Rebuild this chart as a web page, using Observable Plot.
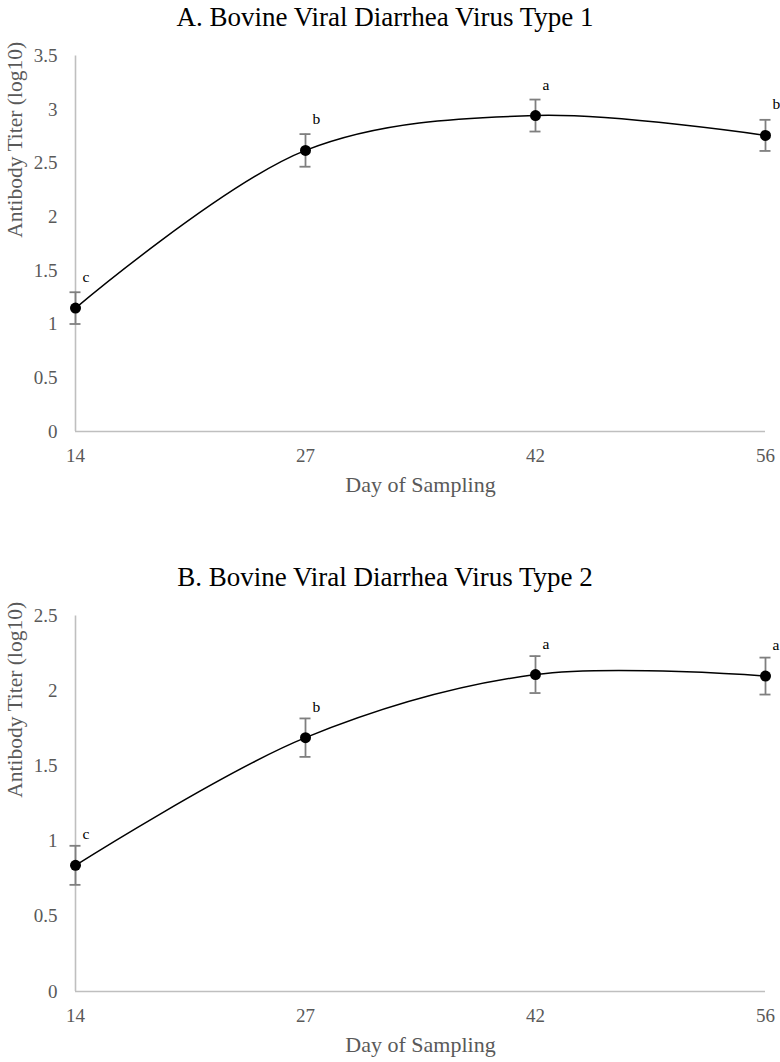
<!DOCTYPE html>
<html><head><meta charset="utf-8">
<script src="https://cdn.jsdelivr.net/npm/d3@7"></script>
<script src="https://cdn.jsdelivr.net/npm/@observablehq/plot@0.6"></script>
<style>
body{margin:0;background:#fff;}
#wrap{position:relative;width:780px;height:1062px;font-family:"Liberation Serif","Times New Roman",serif;overflow:hidden;}
#wrap svg, #wrap svg text{font-family:"Liberation Serif","Times New Roman",serif !important;}
.title{position:absolute;left:0;width:770px;padding-right:10px;text-align:center;font-size:27px;line-height:30px;color:#000;white-space:nowrap;}
.panel{position:absolute;left:0;overflow:visible;}
</style></head><body><div id="wrap"></div>
<script>
const days = ["14", "27", "42", "56"];
const bvd1Mean = [1.15, 2.62, 2.945, 2.76];
const bvd1Err = [0.148, 0.152, 0.149, 0.145];
const bvd1Letters = ["c", "b", "a", "b"];
const bvd2Mean = [0.84, 1.69, 2.11, 2.10];
const bvd2Err = [0.13, 0.128, 0.123, 0.123];
const bvd2Letters = ["c", "b", "a", "a"];
const yTicksA = [0, 0.5, 1, 1.5, 2, 2.5, 3, 3.5];
const yTicksB = [0, 0.5, 1, 1.5, 2, 2.5];
const titleA = "A. Bovine Viral Diarrhea Virus Type 1";
const titleB = "B. Bovine Viral Diarrhea Virus Type 2";
const xLabel = "Day of Sampling";
const yLabel = "Antibody Titer (log10)";

const FONT = '"Liberation Serif","Times New Roman",serif';
const wrap = document.getElementById("wrap");

function panel(cfg) {
  const data = days.map((d, i) => ({
    i, day: d, mean: cfg.mean[i], lo: cfg.mean[i] - cfg.err[i], hi: cfg.mean[i] + cfg.err[i], letter: cfg.letters[i]
  }));
  const yMax = cfg.ticks[cfg.ticks.length - 1];
  const axisCol = "#bfbfbf", tickCol = "#595959", errCol = "#7f7f7f";
  const svg = Plot.plot({
    width: 780,
    height: 502,
    marginTop: 55.5,
    marginBottom: 71,
    marginLeft: 75,
    marginRight: 15,
    style: {fontFamily: FONT, background: "transparent"},
    x: {domain: [0, days.length - 1]},
    y: {domain: [0, yMax]},
    marks: [
      Plot.ruleY([0], {stroke: axisCol, strokeWidth: 1.6}),
      Plot.ruleX([0], {y1: 0, y2: yMax, stroke: axisCol, strokeWidth: 1.6}),
      Plot.axisY({ticks: cfg.ticks, tickSize: 0, tickPadding: 18, tickFormat: d => String(d), fontSize: 19, color: tickCol, label: null}),
      Plot.axisX({ticks: days.map((d, i) => i), tickSize: 0, tickPadding: 17, tickFormat: i => days[i], fontSize: 19, color: tickCol, label: null}),
      Plot.text([yLabel], {frameAnchor: "left", rotate: -90, dx: -60, dy: -6, fontSize: 21.5, fill: tickCol}),
      Plot.text([xLabel], {frameAnchor: "bottom", dy: 60, fontSize: 22, fill: tickCol}),
      Plot.ruleX(data, {x: "i", y1: "lo", y2: "hi", stroke: errCol, strokeWidth: 1.8}),
      Plot.ruleY(data, {y: "hi", x1: "i", x2: "i", insetLeft: -5.5, insetRight: -5.5, stroke: errCol, strokeWidth: 1.8}),
      Plot.ruleY(data, {y: "lo", x1: "i", x2: "i", insetLeft: -5.5, insetRight: -5.5, stroke: errCol, strokeWidth: 1.8}),
      Plot.line(data, {x: "i", y: "mean", curve: "catmull-rom", stroke: "#000", strokeWidth: 1.5}),
      Plot.dot(data, {x: "i", y: "mean", r: 5.5, fill: "#000", stroke: "none"}),
      Plot.text(data, {x: "i", y: "mean", text: "letter", dx: 7, dy: -31, textAnchor: "start", fontSize: 15.5, fill: "#000"})
    ]
  });
  svg.classList.add("panel");
  svg.style.top = cfg.top + "px";
  wrap.appendChild(svg);
  const t = document.createElement("div");
  t.className = "title";
  t.style.top = cfg.titleTop + "px";
  t.textContent = cfg.title;
  wrap.appendChild(t);
}

panel({mean: bvd1Mean, err: bvd1Err, letters: bvd1Letters, ticks: yTicksA, title: titleA, top: 0, titleTop: 2});
panel({mean: bvd2Mean, err: bvd2Err, letters: bvd2Letters, ticks: yTicksB, title: titleB, top: 560, titleTop: 562});
</script></body></html>
